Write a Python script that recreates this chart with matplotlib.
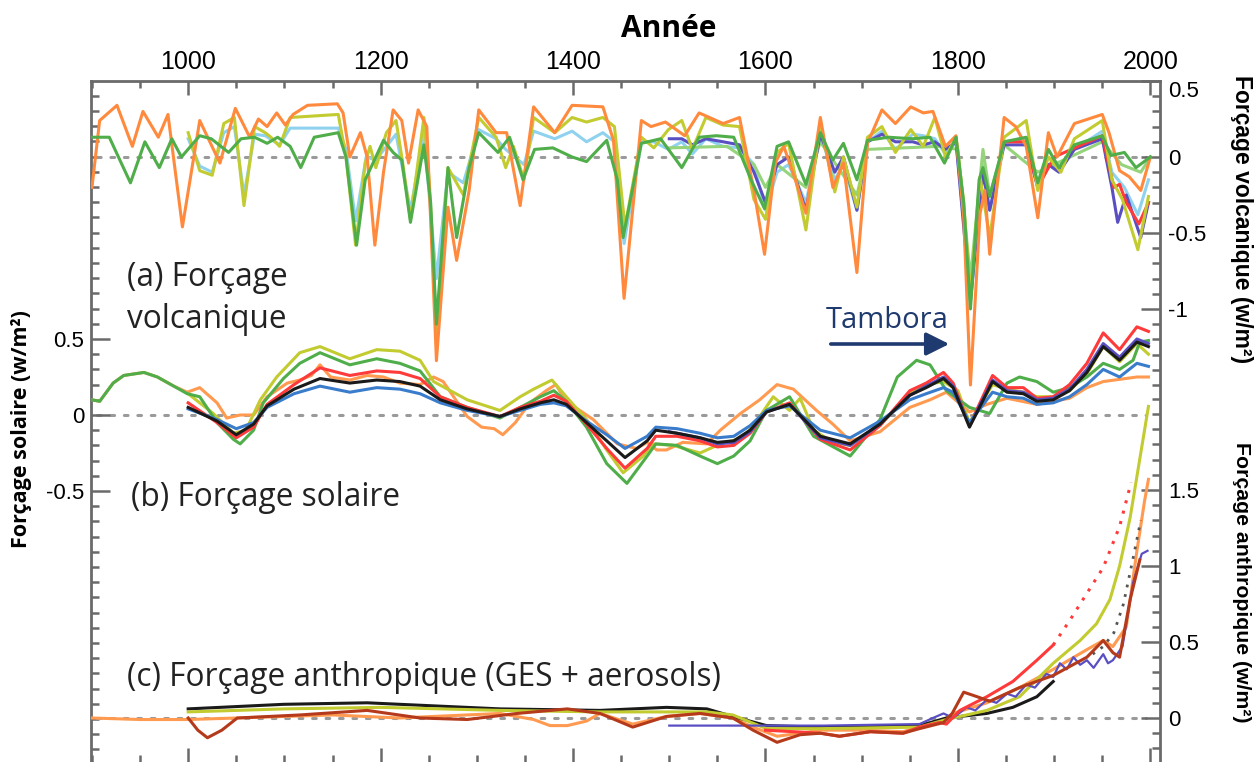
import matplotlib
matplotlib.use("Agg")
import matplotlib.pyplot as plt
from matplotlib.patches import FancyArrowPatch
import numpy as np

plt.rcParams['font.family'] = ['Liberation Sans', 'DejaVu Sans']
plt.rcParams['axes.unicode_minus'] = False

# ---------------- DATA ----------------
# (a) volcanic forcing (W/m2)
volc_orange_yr = [900, 908, 926, 942, 953, 969, 979, 994, 1012, 1033, 1049, 1064, 1073, 1082, 1092, 1101, 1109, 1124, 1155, 1161, 1168, 1179, 1186, 1194, 1203, 1213, 1222, 1229, 1239, 1248, 1258, 1270, 1279, 1292, 1302, 1320, 1331, 1345, 1359, 1381, 1399, 1431, 1442, 1453, 1471, 1481, 1496, 1516, 1531, 1556, 1573, 1588, 1599, 1610, 1619, 1631, 1642, 1657, 1670, 1681, 1695, 1706, 1721, 1735, 1751, 1764, 1774, 1787, 1798, 1806, 1813, 1823, 1828, 1833, 1848, 1860, 1871, 1883, 1894, 1903, 1921, 1950, 1957, 1968, 1978, 1990, 2000]
volc_orange = [-0.2, 0.24, 0.34, 0.07, 0.30, 0.13, 0.28, -0.46, 0.24, -0.04, 0.32, 0.13, 0.25, 0.2, 0.29, 0.21, 0.28, 0.34, 0.35, 0.29, 0.0, 0.16, 0.0, -0.58, -0.1, 0.31, 0.24, -0.04, 0.31, 0.2, -1.34, -0.33, -0.68, -0.22, 0.31, 0.16, 0.16, -0.32, 0.33, 0.16, 0.34, 0.33, 0.11, -0.93, 0.24, 0.2, 0.23, 0.14, 0.29, 0.22, 0.26, -0.22, -0.64, -0.04, 0.07, -0.15, -0.37, 0.26, -0.2, -0.04, -0.76, 0.09, 0.31, 0.22, 0.33, 0.29, 0.3, 0.07, 0.14, -0.4, -1.5, -0.37, -0.22, -0.64, 0.26, 0.2, 0.07, -0.4, 0.16, 0.0, 0.22, 0.28, 0.16, -0.09, -0.13, -0.22, 0.0]

volc_green_yr = [900, 918, 940, 955, 970, 983, 993, 1012, 1024, 1042, 1055, 1069, 1082, 1093, 1106, 1117, 1131, 1156, 1164, 1175, 1184, 1195, 1203, 1213, 1222, 1231, 1245, 1252, 1258, 1270, 1279, 1292, 1302, 1322, 1334, 1348, 1360, 1379, 1399, 1414, 1435, 1446, 1452, 1471, 1491, 1513, 1531, 1549, 1567, 1585, 1599, 1612, 1624, 1642, 1657, 1670, 1681, 1695, 1706, 1728, 1753, 1771, 1786, 1798, 1806, 1813, 1822, 1826, 1833, 1848, 1871, 1883, 1894, 1905, 1921, 1950, 1959, 1973, 1985, 2000]
volc_green = [0.13, 0.13, -0.17, 0.10, -0.07, 0.12, 0.0, 0.14, 0.12, 0.03, 0.12, 0.13, 0.09, 0.13, 0.07, -0.07, 0.13, 0.16, 0.0, -0.58, -0.15, 0.0, 0.11, 0.03, -0.02, -0.43, 0.08, -0.3, -1.1, -0.07, -0.53, -0.07, 0.16, 0.03, 0.13, -0.15, 0.05, 0.06, 0.0, -0.03, 0.11, -0.15, -0.53, 0.09, 0.12, -0.07, 0.13, 0.14, 0.13, -0.15, -0.34, 0.07, 0.1, -0.18, 0.16, -0.02, 0.09, -0.15, 0.11, 0.13, 0.12, 0.13, -0.04, 0.13, -0.3, -1.0, -0.15, -0.07, -0.26, 0.1, 0.13, -0.17, 0.05, -0.07, 0.08, 0.14, 0.01, 0.03, -0.07, 0.0]

volc_yellow_yr = [1000, 1012, 1025, 1037, 1048, 1058, 1069, 1080, 1086, 1095, 1106, 1156, 1164, 1174, 1184, 1189, 1195, 1206, 1216, 1223, 1231, 1245, 1251, 1258, 1270, 1286, 1302, 1320, 1330, 1338, 1349, 1359, 1381, 1399, 1414, 1431, 1443, 1454, 1471, 1484, 1499, 1513, 1524, 1538, 1556, 1573, 1588, 1600, 1612, 1624, 1642, 1657, 1672, 1681, 1695, 1706, 1721, 1735, 1751, 1764, 1776, 1787, 1798, 1806, 1813, 1823, 1833, 1848, 1871, 1883, 1894, 1907, 1921, 1950, 1960, 1971, 1987, 1998]
volc_yellow = [0.16, -0.09, -0.12, 0.22, 0.26, -0.32, 0.2, 0.16, 0.13, 0.07, 0.26, 0.28, 0.0, -0.58, -0.04, 0.07, -0.07, 0.16, 0.24, -0.04, -0.41, 0.26, -0.2, -1.16, -0.07, -0.25, 0.26, 0.13, -0.07, 0.07, -0.15, 0.26, 0.16, 0.26, 0.23, 0.26, 0.2, -0.46, 0.13, 0.06, 0.18, 0.24, 0.05, 0.26, 0.21, 0.2, -0.28, -0.41, 0.03, 0.09, -0.48, 0.22, -0.23, 0.0, -0.33, 0.13, 0.2, 0.03, 0.18, 0.07, 0.26, 0.0, 0.13, -0.3, -0.92, -0.13, -0.53, 0.13, 0.24, -0.22, 0.0, -0.1, 0.12, 0.24, -0.15, -0.28, -0.61, -0.26]

volc_lblue_yr = [1000, 1012, 1025, 1037, 1048, 1058, 1069, 1080, 1095, 1106, 1156, 1164, 1174, 1185, 1195, 1216, 1231, 1245, 1258, 1270, 1286, 1302, 1320, 1330, 1349, 1359, 1381, 1399, 1414, 1431, 1443, 1453, 1471, 1484, 1499, 1513, 1524, 1538, 1556, 1573, 1588, 1600, 1612, 1624, 1642, 1657, 1672, 1681, 1695, 1706, 1721, 1735, 1753, 1764, 1776, 1787, 1798, 1813, 1826, 1833, 1848, 1871, 1883, 1894, 1905, 1921, 1950, 1960, 1973, 1987, 1998]
volc_lblue = [0.12, -0.06, -0.1, 0.16, 0.2, -0.25, 0.15, 0.14, 0.08, 0.19, 0.19, 0.05, -0.42, 0.0, -0.02, 0.15, -0.35, 0.15, -0.8, -0.1, -0.17, 0.18, 0.12, 0.05, -0.05, 0.17, 0.12, 0.17, 0.1, 0.16, 0.1, -0.57, 0.1, 0.1, 0.05, 0.1, 0.02, 0.12, 0.07, 0.06, -0.05, -0.35, -0.1, -0.05, -0.3, 0.15, -0.15, -0.05, -0.35, 0.1, 0.17, 0.05, 0.15, 0.14, 0.12, 0.02, 0.1, -0.85, -0.05, -0.35, 0.1, 0.12, -0.2, -0.05, -0.08, 0.05, 0.17, -0.1, -0.2, -0.38, -0.15]

volc_purple_yr = [1500, 1513, 1524, 1538, 1556, 1573, 1588, 1600, 1612, 1624, 1642, 1657, 1672, 1681, 1695, 1706, 1721, 1735, 1753, 1764, 1776, 1787, 1798, 1813, 1826, 1833, 1848, 1871, 1883, 1894, 1905, 1921, 1950, 1960, 1966, 1975, 1990, 1998]
volc_purple = [0.12, 0.12, 0.08, 0.12, 0.1, 0.08, -0.1, -0.3, -0.05, 0.0, -0.35, 0.15, -0.1, 0.0, -0.35, 0.1, 0.15, 0.1, 0.1, 0.08, 0.1, 0.05, 0.1, -0.95, -0.1, -0.35, 0.08, 0.08, -0.2, -0.05, -0.1, 0.05, 0.12, -0.2, -0.43, -0.25, -0.53, -0.3]

volc_red_yr = [1850, 1871, 1883, 1900, 1950, 1962, 1968, 1975, 1988, 1998]
volc_red = [0.1, 0.1, -0.2, 0.0, 0.14, -0.2, -0.18, -0.3, -0.44, -0.3]

volc_lgreen_yr = [1500, 1560, 1588, 1600, 1612, 1642, 1657, 1695, 1706, 1780, 1800, 1813, 1826, 1833, 1848, 1883, 1950, 1970, 1990, 2000]
volc_lgreen = [0.06, 0.07, -0.05, -0.2, -0.05, -0.2, 0.1, -0.25, 0.05, 0.07, 0.05, -0.8, 0.05, -0.25, 0.08, -0.1, 0.1, -0.05, -0.1, 0.0]

# (b) solar forcing (W/m2)
sol_green_yr = [900, 908, 922, 933, 954, 968, 985, 999, 1012, 1030, 1047, 1054, 1068, 1078, 1099, 1116, 1137, 1168, 1196, 1220, 1241, 1262, 1290, 1324, 1345, 1366, 1380, 1393, 1414, 1435, 1456, 1477, 1486, 1508, 1532, 1550, 1567, 1584, 1601, 1625, 1650, 1688, 1719, 1737, 1757, 1771, 1788, 1812, 1833, 1851, 1864, 1882, 1899, 1916, 1934, 1951, 1968, 1982, 1989, 1998]
sol_green = [0.10, 0.09, 0.21, 0.26, 0.28, 0.25, 0.19, 0.14, 0.12, -0.05, -0.16, -0.19, -0.1, 0.08, 0.24, 0.34, 0.41, 0.33, 0.37, 0.34, 0.29, 0.12, 0.05, -0.02, 0.05, 0.12, 0.16, 0.09, -0.08, -0.32, -0.45, -0.27, -0.19, -0.2, -0.27, -0.32, -0.27, -0.17, 0.03, 0.12, -0.14, -0.27, -0.03, 0.25, 0.36, 0.33, 0.16, 0.05, 0.01, 0.21, 0.25, 0.22, 0.15, 0.18, 0.25, 0.34, 0.3, 0.36, 0.48, 0.49]

sol_orange_yr = [900, 908, 922, 933, 954, 968, 985, 999, 1012, 1030, 1040, 1054, 1068, 1082, 1103, 1116, 1128, 1137, 1148, 1168, 1186, 1203, 1220, 1241, 1255, 1265, 1290, 1305, 1318, 1327, 1340, 1355, 1372, 1382, 1393, 1421, 1446, 1466, 1477, 1487, 1497, 1514, 1539, 1553, 1574, 1594, 1612, 1629, 1653, 1670, 1688, 1719, 1750, 1771, 1788, 1812, 1830, 1851, 1882, 1916, 1934, 1951, 1986, 1998]
sol_orange = [0.10, 0.09, 0.21, 0.26, 0.28, 0.25, 0.19, 0.15, 0.18, 0.08, -0.02, 0.0, 0.0, 0.12, 0.21, 0.23, 0.26, 0.33, 0.25, 0.23, 0.26, 0.25, 0.21, 0.2, 0.25, 0.22, -0.01, -0.08, -0.09, -0.13, -0.05, 0.08, 0.16, 0.2, 0.09, -0.03, -0.19, -0.22, -0.18, -0.23, -0.23, -0.18, -0.19, -0.1, 0.01, 0.1, 0.2, 0.17, 0.03, -0.06, -0.17, -0.11, 0.05, 0.1, 0.15, 0.02, 0.07, 0.11, 0.07, 0.11, 0.18, 0.22, 0.25, 0.25]

sol_yellow_yr = [1000, 1026, 1047, 1060, 1075, 1092, 1116, 1137, 1168, 1196, 1220, 1241, 1255, 1290, 1324, 1345, 1359, 1378, 1393, 1414, 1435, 1452, 1473, 1483, 1504, 1532, 1553, 1577, 1594, 1608, 1625, 1636, 1650, 1670, 1688, 1719, 1750, 1767, 1785, 1800, 1812, 1836, 1851, 1868, 1882, 1899, 1916, 1934, 1951, 1968, 1986, 1998]
sol_yellow = [0.14, 0.01, -0.12, -0.1, 0.1, 0.25, 0.41, 0.45, 0.37, 0.43, 0.42, 0.36, 0.22, 0.1, 0.03, 0.12, 0.17, 0.23, 0.12, -0.03, -0.23, -0.38, -0.27, -0.19, -0.2, -0.25, -0.19, -0.15, -0.01, 0.12, 0.03, 0.11, -0.1, -0.18, -0.2, -0.07, 0.15, 0.2, 0.22, 0.16, -0.05, 0.2, 0.17, 0.15, 0.12, 0.12, 0.16, 0.27, 0.45, 0.35, 0.47, 0.4]

sol_red_yr = [1000, 1030, 1050, 1068, 1082, 1110, 1137, 1168, 1196, 1220, 1241, 1262, 1290, 1324, 1345, 1366, 1380, 1393, 1414, 1435, 1454, 1477, 1486, 1508, 1532, 1550, 1567, 1584, 1601, 1625, 1657, 1688, 1719, 1750, 1767, 1785, 1795, 1812, 1836, 1851, 1868, 1882, 1899, 1916, 1934, 1951, 1968, 1986, 1998]
sol_red = [0.08, -0.05, -0.15, -0.08, 0.07, 0.2, 0.31, 0.26, 0.29, 0.28, 0.24, 0.12, 0.05, -0.01, 0.05, 0.09, 0.13, 0.09, -0.06, -0.22, -0.35, -0.22, -0.14, -0.14, -0.17, -0.21, -0.2, -0.12, 0.02, 0.08, -0.16, -0.23, -0.07, 0.16, 0.21, 0.28, 0.21, -0.07, 0.26, 0.18, 0.18, 0.11, 0.12, 0.2, 0.34, 0.54, 0.43, 0.58, 0.55]

sol_black_yr = [1000, 1030, 1050, 1068, 1082, 1110, 1137, 1168, 1196, 1220, 1241, 1262, 1290, 1324, 1345, 1366, 1380, 1393, 1414, 1435, 1454, 1477, 1486, 1508, 1532, 1550, 1567, 1584, 1601, 1625, 1657, 1688, 1719, 1750, 1767, 1785, 1795, 1812, 1836, 1851, 1868, 1882, 1899, 1916, 1934, 1951, 1968, 1986, 1998]
sol_black = [0.05, -0.04, -0.13, -0.06, 0.06, 0.17, 0.24, 0.21, 0.23, 0.22, 0.19, 0.1, 0.04, -0.01, 0.04, 0.08, 0.1, 0.07, -0.05, -0.17, -0.28, -0.17, -0.1, -0.12, -0.15, -0.18, -0.17, -0.1, 0.02, 0.07, -0.14, -0.19, -0.06, 0.13, 0.18, 0.24, 0.18, -0.08, 0.22, 0.15, 0.14, 0.09, 0.1, 0.16, 0.28, 0.45, 0.36, 0.48, 0.45]

sol_blue_yr = [1000, 1030, 1050, 1068, 1082, 1110, 1137, 1168, 1196, 1220, 1241, 1262, 1290, 1324, 1345, 1366, 1380, 1393, 1414, 1435, 1454, 1477, 1486, 1508, 1532, 1550, 1567, 1584, 1601, 1625, 1657, 1688, 1719, 1750, 1767, 1785, 1795, 1812, 1836, 1851, 1868, 1882, 1899, 1916, 1934, 1951, 1968, 1986, 1998]
sol_blue = [0.04, -0.03, -0.09, -0.05, 0.05, 0.14, 0.19, 0.15, 0.18, 0.17, 0.14, 0.08, 0.03, -0.01, 0.03, 0.07, 0.08, 0.06, -0.04, -0.13, -0.22, -0.14, -0.08, -0.09, -0.12, -0.15, -0.14, -0.07, 0.03, 0.06, -0.1, -0.15, -0.04, 0.1, 0.14, 0.18, 0.15, -0.05, 0.15, 0.12, 0.11, 0.07, 0.08, 0.12, 0.2, 0.3, 0.25, 0.34, 0.32]

sol_purple_yr = [1500, 1532, 1550, 1567, 1584, 1601, 1625, 1657, 1688, 1719, 1750, 1767, 1785, 1795, 1812, 1836, 1851, 1868, 1882, 1899, 1916, 1934, 1951, 1968, 1986, 1998]
sol_purple = [-0.11, -0.15, -0.19, -0.18, -0.11, 0.02, 0.07, -0.15, -0.2, -0.06, 0.13, 0.19, 0.25, 0.19, -0.07, 0.23, 0.16, 0.15, 0.1, 0.11, 0.17, 0.3, 0.47, 0.38, 0.5, 0.47]

# (c) anthropogenic forcing, GHG + aerosols (W/m2)
ant_orange_yr = [900, 950, 1000, 1050, 1100, 1150, 1220, 1324, 1359, 1376, 1394, 1414, 1428, 1462, 1497, 1532, 1566, 1587, 1612, 1636, 1657, 1700, 1743, 1760, 1781, 1795, 1830, 1864, 1899, 1934, 1951, 1961, 1975, 1986, 1994, 1998]
ant_orange = [0.0, -0.01, -0.01, 0.0, 0.01, 0.02, 0.0, 0.03, -0.01, -0.05, -0.05, -0.02, 0.03, -0.04, 0.01, 0.03, 0.0, -0.06, -0.12, -0.1, -0.08, -0.08, -0.09, -0.06, -0.03, 0.03, 0.1, 0.2, 0.32, 0.45, 0.51, 0.47, 0.6, 1.1, 1.43, 1.57]

ant_brown_yr = [1000, 1010, 1020, 1035, 1051, 1116, 1186, 1241, 1290, 1342, 1394, 1428, 1462, 1497, 1532, 1566, 1587, 1612, 1636, 1657, 1677, 1709, 1743, 1760, 1785, 1794, 1806, 1820, 1833, 1864, 1899, 1934, 1951, 1961, 1968, 1979, 1989]
ant_brown = [0.0, -0.08, -0.13, -0.08, 0.0, 0.02, 0.05, 0.0, -0.01, 0.03, 0.06, 0.03, -0.06, 0.01, 0.03, 0.0, -0.08, -0.16, -0.11, -0.1, -0.12, -0.09, -0.1, -0.07, -0.03, 0.03, 0.17, 0.14, 0.11, 0.2, 0.28, 0.4, 0.51, 0.43, 0.4, 0.78, 1.04]

ant_red_yr = [1600, 1657, 1677, 1709, 1743, 1760, 1781, 1788, 1802, 1830, 1857, 1882, 1899]
ant_red = [-0.08, -0.1, -0.12, -0.09, -0.1, -0.06, -0.03, -0.04, 0.05, 0.14, 0.24, 0.38, 0.48]
ant_red_dot_yr = [1899, 1916, 1934, 1951, 1968, 1980]
ant_red_dot = [0.48, 0.64, 0.82, 0.99, 1.26, 1.55]

ant_black_yr = [1000, 1099, 1186, 1220, 1324, 1428, 1497, 1539, 1566, 1601, 1657, 1760, 1788, 1830, 1857, 1882, 1899]
ant_black = [0.06, 0.09, 0.1, 0.09, 0.06, 0.05, 0.07, 0.06, 0.01, -0.05, -0.06, -0.05, 0.0, 0.03, 0.07, 0.14, 0.24]

ant_yellow_yr = [1000, 1100, 1200, 1324, 1428, 1539, 1566, 1601, 1657, 1760, 1788, 1830, 1864, 1899, 1927, 1944, 1958, 1968, 1979, 1998]
ant_yellow = [0.04, 0.06, 0.07, 0.05, 0.04, 0.04, 0.02, -0.07, -0.07, -0.06, -0.01, 0.05, 0.14, 0.36, 0.51, 0.62, 0.78, 1.0, 1.32, 2.05]

ant_purple_yr = [1500, 1584, 1660, 1760, 1774, 1785, 1795, 1809, 1818, 1830, 1840, 1851, 1860, 1871, 1880, 1892, 1899, 1906, 1913, 1920, 1927, 1934, 1941, 1951, 1956, 1961, 1971, 1982, 1991, 1997]
ant_purple = [-0.05, -0.05, -0.05, -0.04, 0.0, 0.03, 0.0, 0.07, 0.05, 0.12, 0.1, 0.16, 0.14, 0.22, 0.2, 0.29, 0.27, 0.36, 0.32, 0.4, 0.35, 0.38, 0.33, 0.42, 0.36, 0.38, 0.47, 0.89, 1.08, 1.1]

ant_grey_yr = [1940, 1951, 1962, 1972, 1982, 1990]
ant_grey = [0.42, 0.47, 0.56, 0.75, 1.05, 1.3]

x_ticks = [1000, 1200, 1400, 1600, 1800, 2000]
sol_ticks = [-0.5, 0, 0.5]
volc_ticks = [0.5, 0, -0.5, -1]
ant_ticks = [0, 0.5, 1, 1.5]

# ---------------- COLORS ----------------
C_ORANGE = '#ff8a3d'
C_YELLOW = '#c2cb2f'
C_LBLUE = '#8fd2ef'
C_GREEN = '#4fae4a'
C_LGREEN = '#95d47a'
C_PURPLE = '#5a4fc2'
C_RED = '#ff3a3a'
C_BLACK = '#1a1a1a'
C_BLUE = '#3a7ccc'
C_BROWN = '#b53a1c'
C_GREY = '#9a9a9a'
NAVY = '#1f3a6e'

W, H = 1258, 762
fig = plt.figure(figsize=(W / 100, H / 100), dpi=100)
x0, x1, ytop, ybot = 91, 1160, 81, 762
ax = fig.add_axes([x0 / W, 1 - ybot / H, (x1 - x0) / W, (ybot - ytop) / H])
ppu = 152.0
ax.set_xlim(899, 2010)
ax.set_ylim(-(ybot - 415) / ppu, (415 - ytop) / ppu)
axv = ax.twinx()
axv.set_ylim(-(ybot - 157) / ppu, (157 - ytop) / ppu)
axa = ax.twinx()
axa.set_ylim(-(ybot - 718) / ppu, (718 - ytop) / ppu)

lw = 2.2
# zero reference lines
dot = (0, (1.2, 3.2))
for a in (ax, axv, axa):
    a.plot([905, 1995], [0, 0], color=C_GREY, lw=2.2, linestyle=dot, zorder=1,
           solid_capstyle='round', dash_capstyle='round')

# volcanic
for yr, v, c in [(volc_lblue_yr, volc_lblue, C_LBLUE), (volc_lgreen_yr, volc_lgreen, C_LGREEN),
                 (volc_purple_yr, volc_purple, C_PURPLE), (volc_red_yr, volc_red, C_RED),
                 (volc_yellow_yr, volc_yellow, C_YELLOW), (volc_orange_yr, volc_orange, C_ORANGE),
                 (volc_green_yr, volc_green, C_GREEN)]:
    axv.plot(yr, v, color=c, lw=lw, solid_joinstyle='round', zorder=3)

# solar
for yr, v, c in [(sol_orange_yr, sol_orange, '#ff9a50'), (sol_yellow_yr, sol_yellow, C_YELLOW),
                 (sol_green_yr, sol_green, C_GREEN), (sol_red_yr, sol_red, C_RED),
                 (sol_purple_yr, sol_purple, C_PURPLE), (sol_blue_yr, sol_blue, C_BLUE),
                 (sol_black_yr, sol_black, C_BLACK)]:
    ax.plot(yr, v, color=c, lw=lw, solid_joinstyle='round', zorder=3)

# anthropogenic
axa.plot(ant_orange_yr, ant_orange, color='#ff9a50', lw=lw, zorder=3)
axa.plot(ant_black_yr, ant_black, color=C_BLACK, lw=lw, zorder=3)
axa.plot(ant_yellow_yr, ant_yellow, color=C_YELLOW, lw=lw, zorder=3)
axa.plot(ant_purple_yr, ant_purple, color=C_PURPLE, lw=1.6, zorder=3)
axa.plot(ant_red_yr, ant_red, color=C_RED, lw=lw, zorder=3)
axa.plot(ant_red_dot_yr, ant_red_dot, color=C_RED, lw=2.2, linestyle=(0, (1, 2.5)), zorder=3)
axa.plot(ant_grey_yr, ant_grey, color='#555555', lw=2.0, linestyle=(0, (1, 2.5)), zorder=3)
axa.plot(ant_brown_yr, ant_brown, color=C_BROWN, lw=lw, zorder=4)

# ---------------- AXES STYLE ----------------
spc = '#6a6a6a'
for s in ('top', 'left', 'right'):
    ax.spines[s].set_color(spc)
    ax.spines[s].set_linewidth(2.0)
ax.spines['bottom'].set_visible(False)
for a in (axv, axa):
    for s in a.spines.values():
        s.set_visible(False)

ax.set_xticks(x_ticks)
ax.set_xticks([y for y in range(900, 2001, 50) if y % 200 != 0], minor=True)
ax.tick_params(axis='x', which='both', direction='in', top=True, bottom=True,
               labeltop=True, labelbottom=False, color=spc, width=1.8)
ax.tick_params(axis='x', which='major', length=10, labelsize=18, pad=5)
ax.tick_params(axis='x', which='minor', length=5)

ax.set_yticks(sol_ticks)
ax.set_yticklabels(['-0.5', '0', '0.5'])
ax.set_yticks([round(v, 1) for v in np.arange(-2.2, 2.15, 0.1)], minor=True)
ax.tick_params(axis='y', which='both', direction='in', left=True, right=False, color=spc, width=1.8)
ax.tick_params(axis='y', which='major', length=14, labelsize=16, pad=5)
ax.tick_params(axis='y', which='minor', length=6)

axv.set_yticks(volc_ticks)
axv.set_yticklabels(['0.5', '0', '-0.5', '-1'])
axv.set_yticks([round(v, 1) for v in np.arange(-1.5, 0.55, 0.1)], minor=True)
axa.set_yticks(ant_ticks)
axa.set_yticklabels(['0', '0.5', '1', '1.5'])
axa.set_yticks([round(v, 1) for v in np.arange(-0.2, 2.15, 0.1)], minor=True)
for a in (axv, axa):
    a.tick_params(axis='y', which='both', direction='in', right=True, left=False,
                  labelleft=False, labelright=True, color=spc, width=1.8)
    a.tick_params(axis='y', which='major', length=14, labelsize=16, pad=6)
    a.tick_params(axis='y', which='minor', length=6)
    a.tick_params(axis='x', which='both', top=False, bottom=False, labeltop=False, labelbottom=False)
# the 0.5 label sits just under the top corner
for t in axv.yaxis.get_major_ticks():
    if abs(t.get_loc() - 0.5) < 1e-6:
        t.label2.set_va('top')

# ---------------- TEXT ----------------
def fx(x):
    return x / W

def fy(y):
    return 1 - y / H

fig.text(fx(669), fy(29), 'Année', ha='center', va='center', fontsize=21.5,
         fontweight='bold', family=['Open Sans', 'DejaVu Sans'])
fig.text(fx(22), fy(429), 'Forçage solaire (w/m²)', rotation=90, ha='center', va='center',
         fontsize=15.5, fontweight='bold', family=['Open Sans', 'DejaVu Sans'])
fig.text(fx(1241), fy(219), 'Forçage volcanique (w/m²)', rotation=-90, ha='center', va='center',
         fontsize=16.5, fontweight='bold')
fig.text(fx(1241), fy(582), 'Forçage anthropique (w/m²)', rotation=-90, ha='center', va='center',
         fontsize=15.3, fontweight='bold')

af = ['Open Sans', 'DejaVu Sans']
tc = '#222222'
fs = 22.8
fig.text(fx(127), fy(278), '(a) Forçage', ha='left', va='center', fontsize=fs, family=af, color=tc)
fig.text(fx(127), fy(320), 'volcanique', ha='left', va='center', fontsize=fs, family=af, color=tc)
fig.text(fx(131), fy(497), '(b) Forçage solaire', ha='left', va='center', fontsize=fs, family=af, color=tc)
fig.text(fx(127), fy(677), '(c) Forçage anthropique (GES + aerosols)', ha='left', va='center',
         fontsize=fs, family=af, color=tc)
fig.text(fx(887), fy(320), 'Tambora', ha='center', va='center', fontsize=21, family=af, color=NAVY)
arrow = FancyArrowPatch((fx(828), fy(344)), (fx(952), fy(344)), transform=fig.transFigure,
                        arrowstyle='-|>,head_length=0.7,head_width=0.35', mutation_scale=20,
                        lw=2.6, color=NAVY)
fig.add_artist(arrow)

fig.savefig('out.png', dpi=100)
